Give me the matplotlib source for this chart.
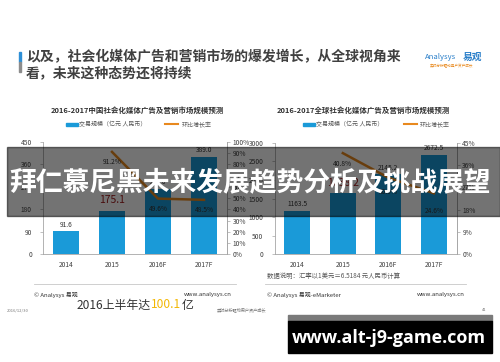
import matplotlib
matplotlib.use("Agg")
import matplotlib.pyplot as plt
from matplotlib.patches import Rectangle
from matplotlib.lines import Line2D

plt.rcParams['font.family'] = ['Noto Sans CJK SC', 'DejaVu Sans']

# 数据
years = ['2014', '2015', '2016F', '2017F']
cn_size = [91.6, 175.1, 262.0, 389.0]        # 亿元
cn_growth = [None, 91.2, 49.6, 48.5]          # %
world_size = [1163.5, 1638.2, 2145.2, 2672.5]
world_growth = [None, 40.8, 30.9, 24.6]

cn_yticks = [0, 90, 180, 270, 360, 450]
cn_y2ticks = [0, 10, 20, 30, 40, 50, 60, 70, 80, 90, 100]
world_yticks = [0, 500, 1000, 1500, 2000, 2500, 3000]
world_y2ticks = [0, 9, 18, 27, 36, 45]

BLUE = '#1a9ad8'
ORANGE = '#e8891e'
W, H = 500, 362


def rect(x0, y0, x1, y1):
    # 像素框 -> figure 坐标
    return [x0 / W, 1 - y1 / H, (x1 - x0) / W, (y1 - y0) / H]


def ftext(x, y, s, **kw):
    kw.setdefault('va', 'center')
    return fig.text(x / W, 1 - y / H, s, **kw)


fig = plt.figure(figsize=(5, 3.62), dpi=100)


def draw_chart(box, sizes, growth, yticks, y2ticks, ymax, y2max, red_idx, lab_off):
    ax = fig.add_axes(rect(*box))
    x = range(len(years))
    ax.bar(x, sizes, width=0.57, color=BLUE, zorder=2)
    ax.set_xlim(-0.5, 3.5)
    ax.set_ylim(0, ymax)
    ax.set_yticks(yticks)
    ax.set_xticks(list(x))
    ax.set_xticklabels(years)
    ax.spines['top'].set_visible(False)
    for sp in ['left', 'bottom', 'right']:
        ax.spines[sp].set_color('#a6a6a6')
        ax.spines[sp].set_linewidth(0.6)
    ax.tick_params(axis='y', labelsize=4.8, colors='#a6a6a6', labelcolor='#404040',
                   length=2, width=0.5, pad=6)
    ax.tick_params(axis='x', labelsize=4.8, labelcolor='#404040', length=0, pad=5)
    for i, v in enumerate(sizes):
        if i == red_idx:
            ax.annotate(f'{v:.1f}', (i, v), xytext=(0, 4), textcoords='offset points',
                        ha='center', va='bottom', fontsize=7.5, color='#a01c1c')
        else:
            ax.annotate(f'{v:.1f}', (i, v), xytext=(0, 2), textcoords='offset points',
                        ha='center', va='bottom', fontsize=4.8, color='#333333')
    ax2 = ax.twinx()
    ax2.set_ylim(0, y2max)
    ax2.set_yticks(y2ticks)
    ax2.set_yticklabels([f'{t}%' for t in y2ticks])
    for sp in ['top', 'left', 'bottom']:
        ax2.spines[sp].set_visible(False)
    ax2.spines['right'].set_color('#a6a6a6')
    ax2.spines['right'].set_linewidth(0.6)
    ax2.tick_params(axis='y', labelsize=4.8, colors='#a6a6a6', labelcolor='#404040',
                    length=2, width=0.5, pad=2)
    gx = [i for i, g in enumerate(growth) if g is not None]
    gy = [g for g in growth if g is not None]
    ax2.plot(gx, gy, color=ORANGE, lw=1.8, zorder=3)
    for i, g, off in zip(gx, gy, lab_off):
        ax2.annotate(f'{g:.1f}%', (i, g), xytext=(0, -off), textcoords='offset points',
                     ha='center', va='center', fontsize=4.8, color='#333333')
    return ax


draw_chart((43, 142, 227, 254.3), cn_size, cn_growth, cn_yticks, cn_y2ticks,
           450, 100, 1, [7.5, 7.5, 7])
draw_chart((274.5, 142.7, 456.7, 254.3), world_size, world_growth, world_yticks,
           world_y2ticks, 3000, 45, 1, [8, 10, 13])

# 标题
fig.patches.append(Rectangle((18.5 / W, 1 - 62 / H), 2.5 / W, 10 / H,
                             transform=fig.transFigure, color='#2e8fd6'))
fig.patches.append(Rectangle((18.5 / W, 1 - 72 / H), 2.5 / W, 10 / H,
                             transform=fig.transFigure, color='#8c8c8c'))
ftext(26, 57, '以及，社会化媒体广告和营销市场的爆发增长，从全球视角来',
      fontsize=10, fontweight='bold', color='#404040')
ftext(26, 73, '看，未来这种态势还将持续', fontsize=10, fontweight='bold', color='#404040')

# logo
ftext(425, 57, 'Analysys', fontsize=5.5, color='#2a7fc9', style='italic')
ftext(463, 57, '易观', fontsize=7, color='#2a7fc9', fontweight='bold')
ftext(430, 66, '实时分析驱动用户资产成长', fontsize=2.6, color='#e8891e')

# 图表标题与图例
ftext(137, 110, '2016-2017中国社会化媒体广告及营销市场规模预测', fontsize=5.4,
      fontweight='bold', color='#333333', ha='center')
ftext(363, 110, '2016-2017全球社会化媒体广告及营销市场规模预测', fontsize=5.4,
      fontweight='bold', color='#333333', ha='center')
for bx, lx, tx1, tx2 in [(66, 165, 79, 182), (303, 404, 316, 420)]:
    fig.patches.append(Rectangle((bx / W, 1 - 125.5 / H), 12 / W, 2.5 / H,
                                 transform=fig.transFigure, color=BLUE))
    fig.lines.append(Line2D([lx / W, (lx + 13) / W], [1 - 124 / H, 1 - 124 / H],
                            transform=fig.transFigure, color=ORANGE, lw=1.5))
    ftext(tx1, 124, '交易规模（亿元 人民币）', fontsize=4.3, color='#555555')
    ftext(tx2, 124, '环比增长率', fontsize=4.3, color='#555555')

# 页脚
ftext(267, 276, '数据说明：汇率以1美元＝6.5184 元人民币计算', fontsize=4.6, color='#555555')
for x0, x1 in [(34, 236), (265, 466)]:
    fig.lines.append(Line2D([x0 / W, x1 / W], [1 - 283.5 / H, 1 - 283.5 / H],
                            transform=fig.transFigure, color='#c8c8c8', lw=0.6))
ftext(34, 294.5, '© Analysys 易观', fontsize=4.3, color='#333333')
ftext(232, 294.5, 'www.analysys.cn', fontsize=4.3, color='#333333', ha='right')
ftext(267, 294.5, '© Analysys 易观-eMarketer', fontsize=4.3, color='#333333')
ftext(465, 294.5, 'www.analysys.cn', fontsize=4.3, color='#333333', ha='right')

# 2016上半年达100.1亿 —— 分段依次排列
renderer = fig.canvas.get_renderer()
cx = 77
for part, col in [('2016上半年达', '#333333'), ('100.1', '#f2b705'), ('亿', '#333333')]:
    t = ftext(cx, 305, part, fontsize=8.6, color=col)
    cx += t.get_window_extent(renderer).width

ftext(7, 310, '2016/12/30', fontsize=3, color='#777777')
ftext(217, 310, '实时分析驱动用户资产成长', fontsize=3, color='#777777')
ftext(486, 310, '41', fontsize=3, color='#777777', ha='right')

# 半透明横幅
fig.patches.append(Rectangle((7 / W, 1 - 216 / H), 493 / W, 69 / H,
                             transform=fig.transFigure, color='black', alpha=0.55,
                             zorder=5))
ftext(250, 182, '拜仁慕尼黑未来发展趋势分析及挑战展望', fontsize=19.3,
      fontweight='bold', color='white', ha='center', zorder=6)

# 右下角网址框
fig.patches.append(Rectangle((288 / W, 1 - 321 / H), 204 / W, 6 / H,
                             transform=fig.transFigure, color='#7a7a7a', zorder=5))
fig.patches.append(Rectangle((288 / W, 1 - 353 / H), 204 / W, 32 / H,
                             transform=fig.transFigure, color='black', zorder=5))
ftext(389, 338, 'www.alt-j9-game.com', fontsize=13, fontweight='bold', color='white',
      ha='center', family='Open Sans', zorder=6)

fig.savefig('out.png', dpi=100)
